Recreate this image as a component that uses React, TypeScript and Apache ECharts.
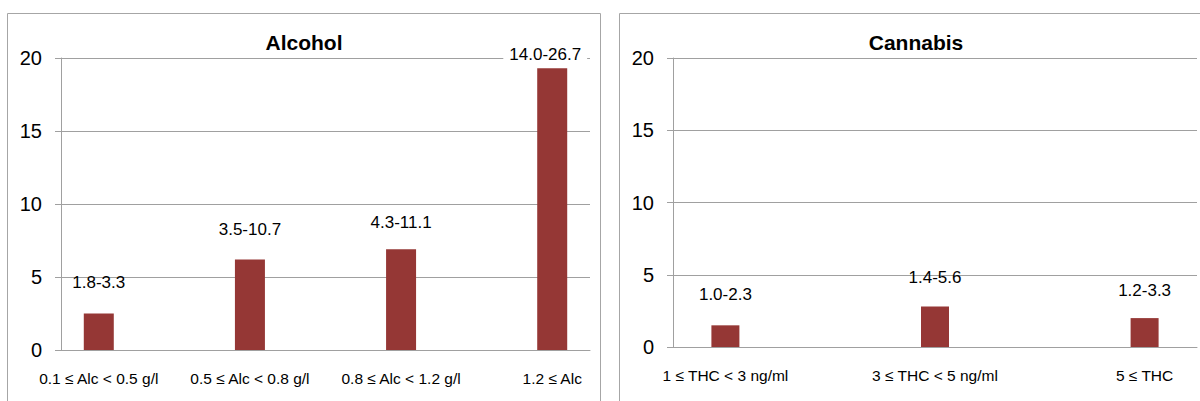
import React, { useEffect, useRef } from "react";
import * as echarts from "echarts";

const alcoholCategories = ["0.1 ≤ Alc < 0.5 g/l", "0.5 ≤ Alc < 0.8 g/l", "0.8 ≤ Alc < 1.2 g/l", "1.2 ≤ Alc"];
const alcoholValues = [2.5, 6.2, 6.9, 19.3];
const alcoholRanges = ["1.8-3.3", "3.5-10.7", "4.3-11.1", "14.0-26.7"];

const cannabisCategories = ["1 ≤ THC < 3 ng/ml", "3 ≤ THC < 5 ng/ml", "5 ≤ THC"];
const cannabisValues = [1.5, 2.8, 2.0];
const cannabisRanges = ["1.0-2.3", "1.4-5.6", "1.2-3.3"];

const yTicks = [0, 5, 10, 15, 20];

const FONT = "'Liberation Sans', Arial, sans-serif";
const BAR = "#953735";
const GRID = "#a0a0a0";

// label lift above each bar (style only)
const alcoholLabelLift = [23, 21, 18, 5];
const cannabisLabelLift = [22, 21, 19];

export default function App() {
  const ref = useRef<HTMLDivElement>(null);
  useEffect(() => {
    if (!ref.current) return;
    const chart = echarts.init(ref.current, undefined, { renderer: "svg" });

    const yAxisBase = (gridIndex: number) => ({
      type: "value",
      gridIndex,
      min: yTicks[0],
      max: yTicks[yTicks.length - 1],
      interval: 5,
      axisLine: { show: true, onZero: false, lineStyle: { color: GRID, width: 1 } },
      axisTick: { show: true, length: 6, lineStyle: { color: GRID, width: 1 } },
      splitLine: { show: true, lineStyle: { color: GRID, width: 1 } },
      axisLabel: { fontSize: 20, color: "#000", fontFamily: FONT, margin: 19 },
    });

    const xAxisBase = (gridIndex: number, cats: string[]) => ({
      type: "value",
      gridIndex,
      min: -0.25,
      max: cats.length - 0.75,
      axisLine: { show: true, onZero: false, lineStyle: { color: GRID, width: 1 } },
      axisTick: { show: false },
      splitLine: { show: false },
      axisLabel: {
        customValues: cats.map((_, i) => i),
        formatter: (v: number) => cats[Math.round(v)] ?? "",
        fontSize: 15.5,
        color: "#000",
        fontFamily: FONT,
        margin: 20,
        showMinLabel: true,
        showMaxLabel: true,
      },
    });

    const makeData = (vals: number[], ranges: string[], lifts: number[], highlightTop: boolean) =>
      vals.map((v, i) => ({
        value: [i, v],
        label: {
          show: true,
          position: "top",
          distance: lifts[i],
          formatter: ranges[i],
          fontSize: 17,
          color: "#000",
          fontFamily: FONT,
          ...(highlightTop && v > 15 ? { backgroundColor: "#fff", padding: [0, 6, 0, 6], offset: [-7, 0] } : {}),
        },
      }));

    chart.setOption({
      animation: false,
      backgroundColor: "#fff",
      grid: [
        { left: 61, top: 58, width: 529, height: 292 },
        { left: 673, top: 58, width: 524, height: 289 },
      ],
      xAxis: [xAxisBase(0, alcoholCategories), xAxisBase(1, cannabisCategories)],
      yAxis: [yAxisBase(0), yAxisBase(1)],
      series: [
        {
          type: "bar",
          xAxisIndex: 0,
          yAxisIndex: 0,
          barWidth: 30,
          itemStyle: { color: BAR },
          data: makeData(alcoholValues, alcoholRanges, alcoholLabelLift, true),
        },
        {
          type: "bar",
          xAxisIndex: 1,
          yAxisIndex: 1,
          barWidth: 28,
          itemStyle: { color: BAR },
          data: makeData(cannabisValues, cannabisRanges, cannabisLabelLift, false),
        },
      ],
      graphic: [
        {
          type: "rect",
          shape: { x: 7.5, y: 13.5, width: 593, height: 400 },
          style: { fill: "none", stroke: "#a6a6a6", lineWidth: 1 },
          silent: true,
          z: -1,
        },
        {
          type: "rect",
          shape: { x: 619.5, y: 13.5, width: 600, height: 400 },
          style: { fill: "none", stroke: "#a6a6a6", lineWidth: 1 },
          silent: true,
          z: -1,
        },
        {
          type: "text",
          x: 304,
          y: 42,
          style: {
            text: "Alcohol",
            fontSize: 21,
            fontWeight: "bold",
            fontFamily: FONT,
            fill: "#000",
            textAlign: "center",
            textVerticalAlign: "middle",
          },
        },
        {
          type: "text",
          x: 916,
          y: 42,
          style: {
            text: "Cannabis",
            fontSize: 21,
            fontWeight: "bold",
            fontFamily: FONT,
            fill: "#000",
            textAlign: "center",
            textVerticalAlign: "middle",
          },
        },
      ],
    });
    return () => chart.dispose();
  }, []);

  return (
    <div
      ref={ref}
      style={{ position: "absolute", left: 0, top: 0, width: 1200, height: 401 }}
    />
  );
}
